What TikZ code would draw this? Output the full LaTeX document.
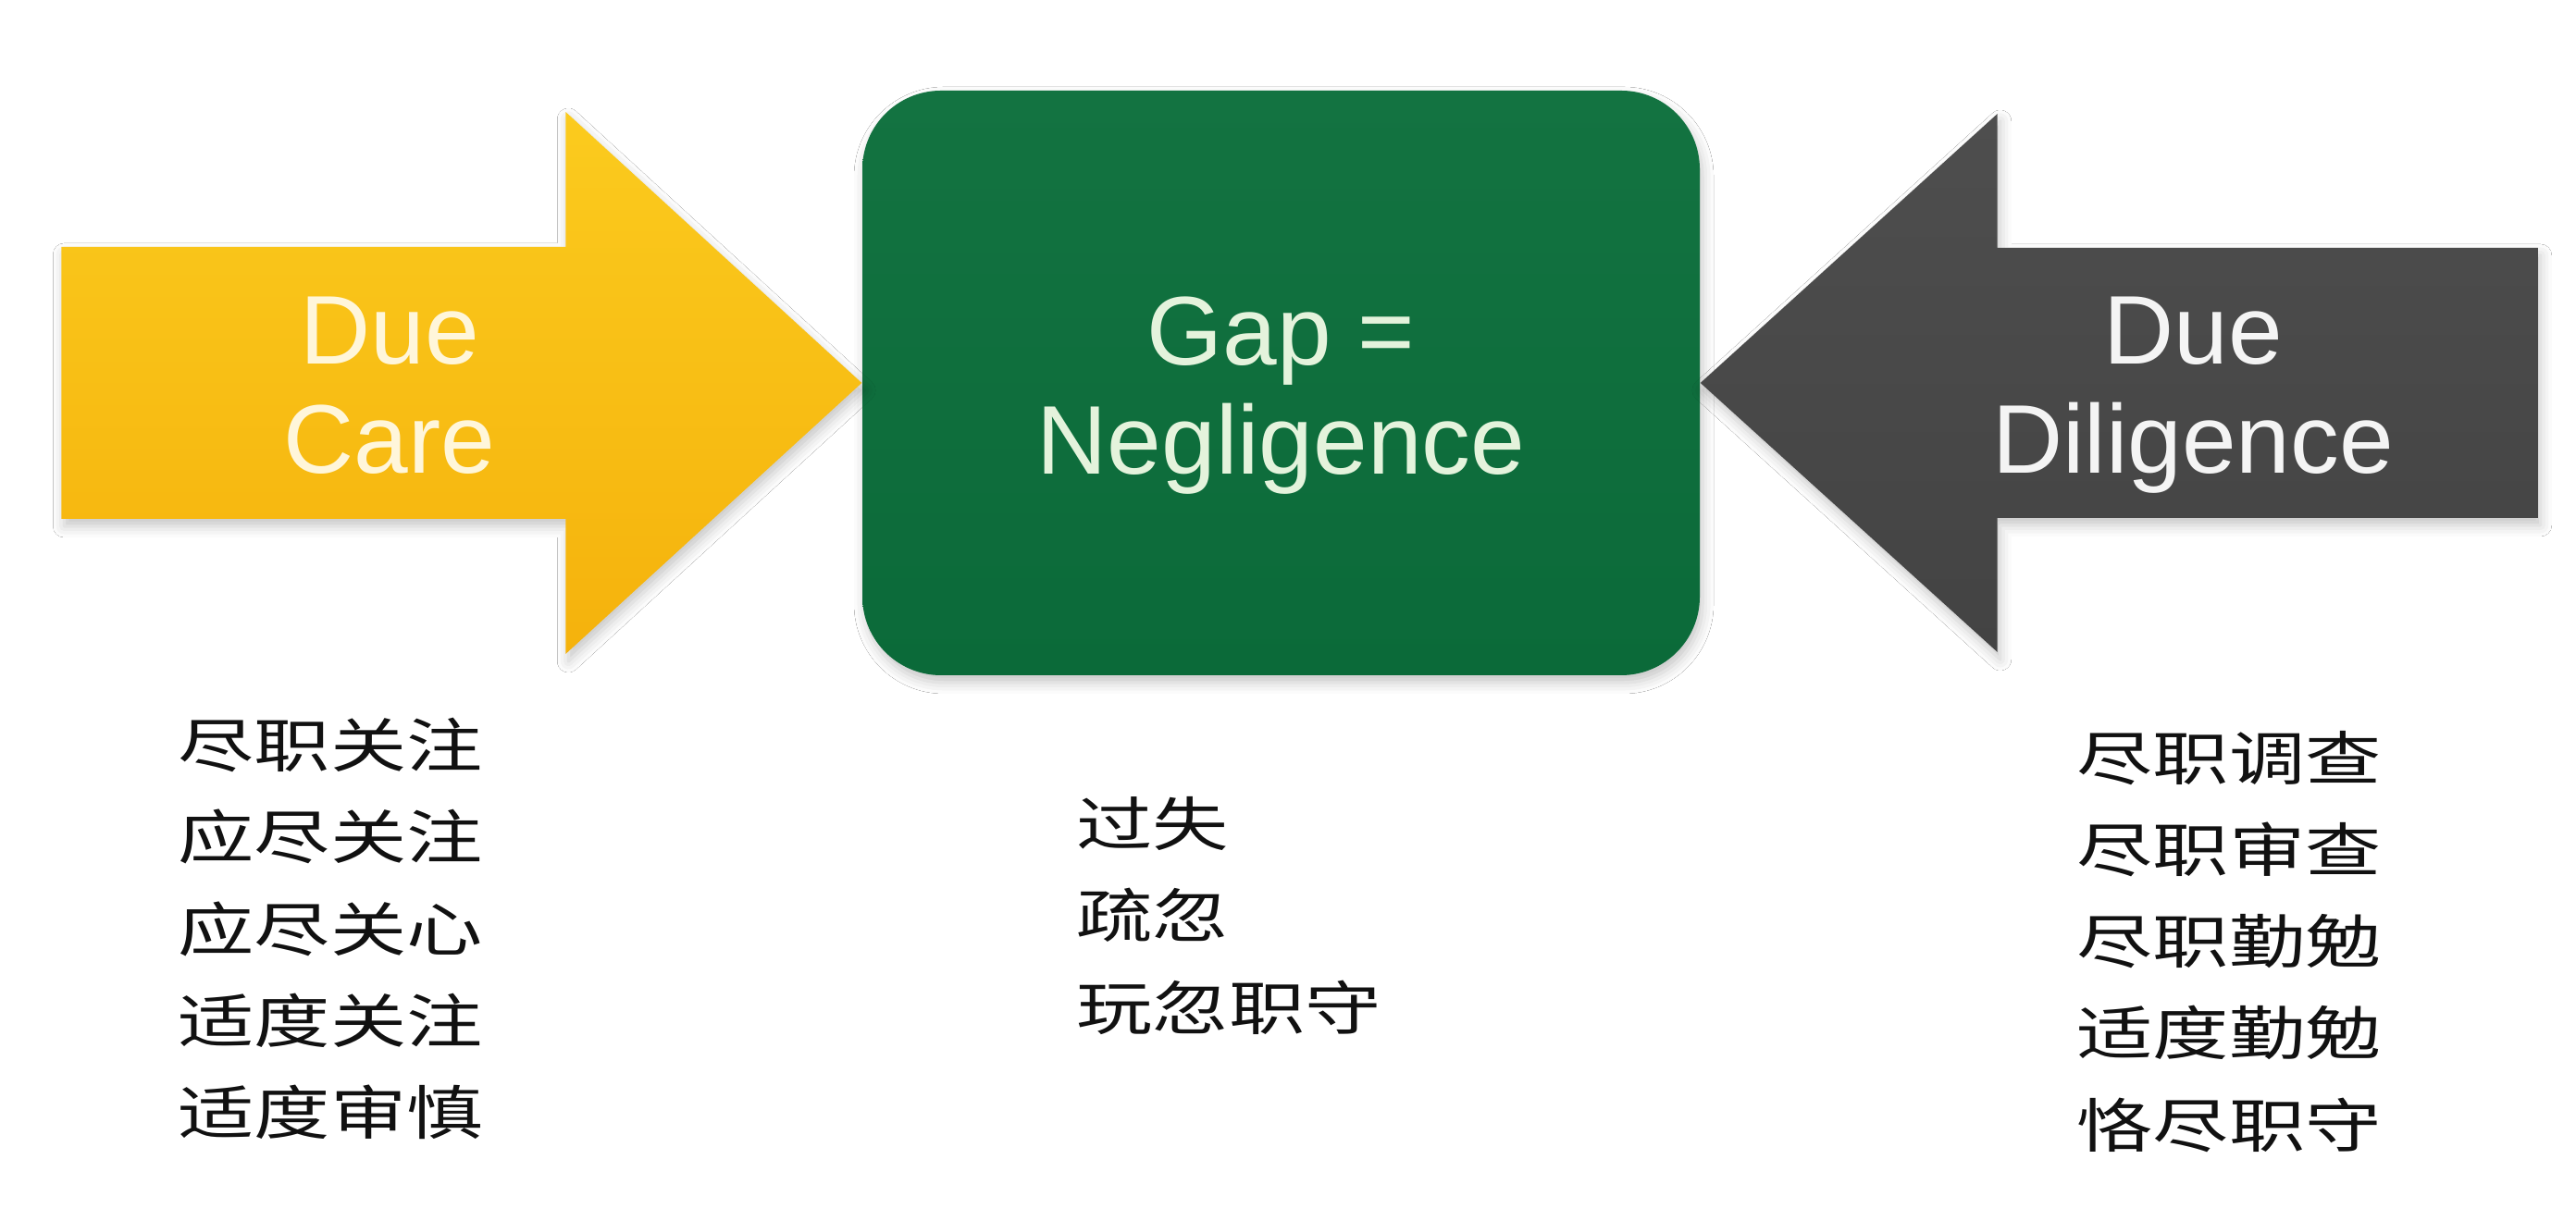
\documentclass[tikz,border=0pt]{standalone}
\usepackage{fontspec}
\usetikzlibrary{calc,shadows.blur}
\newfontfamily\labelfont{Liberation Sans}
\newfontfamily\cjkfont[FakeStretch=1.3]{Noto Sans CJK SC}
\definecolor{caregold}{HTML}{F5B20C}
\definecolor{caregoldlight}{HTML}{FBCB1E}
\definecolor{caretext}{HTML}{FFF6DA}
\definecolor{gapgreen}{HTML}{0B6A39}
\definecolor{gapgreenlight}{HTML}{137341}
\definecolor{gaptext}{HTML}{E4F3DC}
\definecolor{diligray}{HTML}{434343}
\definecolor{diligraylight}{HTML}{4E4E4E}
\definecolor{diligtext}{HTML}{F4F4F4}
\definecolor{termink}{HTML}{111111}

\begin{document}
\begin{tikzpicture}[
  bigword/.style={
    font=\labelfont\fontsize{30}{33.5}\selectfont,
    align=center,
    inner sep=0pt
  },
  softshadow/.style={
    blur shadow={shadow xshift=0.03cm,shadow yshift=-0.08cm,
      shadow blur radius=0.12cm,shadow opacity=22}
  },
  gapbox/.style={
    top color=gapgreenlight,
    bottom color=gapgreen,
    rounded corners=0.85cm,
    minimum width=9.05cm,
    minimum height=6.32cm,
    softshadow
  },
  carearrow/.style={
    top color=caregoldlight,
    bottom color=caregold,
    softshadow
  },
  diliarrow/.style={
    top color=diligraylight,
    bottom color=diligray,
    softshadow
  },
  termlist/.style={
    font=\cjkfont\fontsize{18}{28.2}\selectfont,
    text=termink,
    align=left,
    inner sep=0pt,
    anchor=west
  }
]
\fill[white] (0,0) rectangle (27.84,13.2);
\useasboundingbox (0,0) rectangle (27.84,13.2);

\node[gapbox] (gap) at (13.845,9.06) {};
\node[bigword,text=gaptext] (gaplabel) at ($(gap.center)+(0,-0.14)$) {Gap =\\Negligence};

\path[carearrow] (gap.west) -- ++(-3.20,2.93) -- ++(0,-1.46) -- ++(-5.45,0)
  -- ++(0,-2.94) -- ++(5.45,0) -- ++(0,-1.46) -- cycle;
\path[diliarrow] (gap.east) -- ++(3.21,2.91) -- ++(0,-1.45) -- ++(5.84,0)
  -- ++(0,-2.92) -- ++(-5.84,0) -- ++(0,-1.45) -- cycle;

\node[bigword,text=caretext] (care) at (4.21,9.03) {Due\\Care};
\node[bigword,text=diligtext] (dili) at (23.70,8.93) {Due\\Diligence};

\node[termlist] (careterms) at (1.92,3.16)
  {尽职关注\\应尽关注\\应尽关心\\适度关注\\适度审慎};
\node[termlist] (gapterms) at (11.63,3.30)
  {过失\\疏忽\\玩忽职守};
\node[termlist] (diliterms) at (22.44,3.02)
  {尽职调查\\尽职审查\\尽职勤勉\\适度勤勉\\恪尽职守};

\end{tikzpicture}
\end{document}
